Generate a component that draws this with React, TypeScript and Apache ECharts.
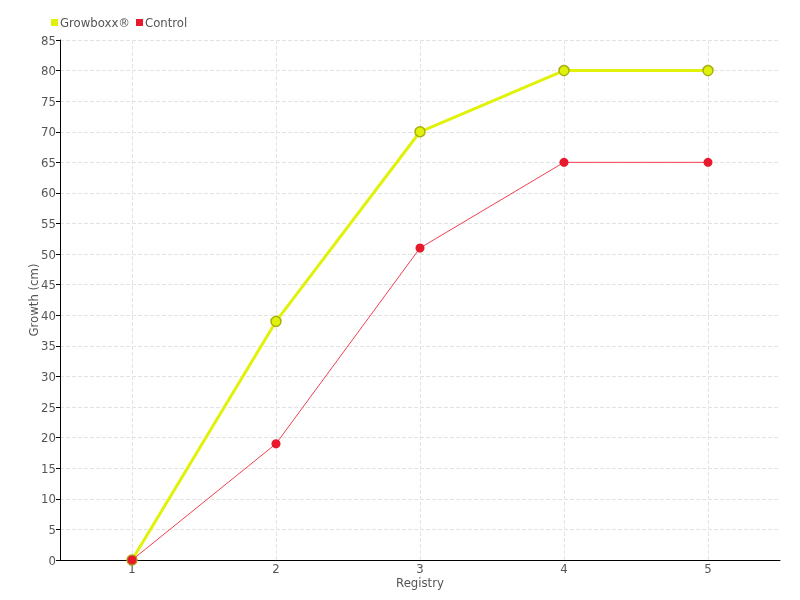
import React, { useEffect, useRef } from "react";
import * as echarts from "echarts";

const categories = ["1", "2", "3", "4", "5"];
const growboxx = [0, 39, 70, 80, 80];
const control = [0, 19, 51, 65, 65];
const seriesNames = ["Growboxx®", "Control"];

const FONT = "DejaVu Sans Condensed, DejaVu Sans, sans-serif";

export default function App() {
  const ref = useRef<HTMLDivElement>(null);
  useEffect(() => {
    if (!ref.current) return;
    const chart = echarts.init(ref.current, null, { renderer: "svg" });
    chart.setOption({
      animation: false,
      textStyle: { fontFamily: FONT },
      legend: {
        left: 46,
        top: 11,
        itemWidth: 7,
        itemHeight: 7,
        itemGap: 6,
        icon: "rect",
        itemStyle: { borderWidth: 0 },
        textStyle: { color: "#555", fontSize: 13, fontFamily: FONT, padding: [0, 0, 0, -3] },
        data: seriesNames,
      },
      grid: { left: 60, right: 20, top: 40, bottom: 40 },
      xAxis: {
        type: "category",
        data: categories,
        boundaryGap: true,
        name: "Registry",
        nameLocation: "middle",
        nameGap: 16,
        nameMoveOverlap: false,
        nameTextStyle: { color: "#555", fontSize: 13, fontFamily: FONT },
        axisLine: { lineStyle: { color: "#000" } },
        axisTick: { alignWithLabel: true, length: 4, lineStyle: { color: "#555" } },
        axisLabel: { color: "#555", fontSize: 13, margin: 2, fontFamily: FONT },
        splitLine: {
          show: true,
          alignWithLabel: true,
          lineStyle: { color: "#e3e3e3", type: "dashed" },
        },
      },
      yAxis: {
        type: "value",
        min: 0,
        max: 85,
        interval: 5,
        name: "Growth (cm)",
        nameLocation: "middle",
        nameGap: 20,
        nameMoveOverlap: false,
        nameTextStyle: { color: "#555", fontSize: 13, fontFamily: FONT },
        axisLine: { show: true, lineStyle: { color: "#000" } },
        axisTick: { show: true, length: 4, lineStyle: { color: "#000" } },
        axisLabel: { color: "#555", fontSize: 13, margin: 4, fontFamily: FONT },
        splitLine: { show: true, lineStyle: { color: "#e3e3e3", type: "dashed" } },
      },
      series: [
        {
          name: seriesNames[0],
          type: "line",
          data: growboxx,
          color: "#e1f20a",
          lineStyle: { width: 3, color: "#e1f20a" },
          symbol: "circle",
          symbolSize: 10,
          itemStyle: { color: "#e1f20a", borderColor: "#a8b010", borderWidth: 1.5 },
          z: 2,
        },
        {
          name: seriesNames[1],
          type: "line",
          data: control,
          color: "#e8192c",
          lineStyle: { width: 1, color: "#f04050" },
          symbol: "circle",
          symbolSize: 9,
          itemStyle: { color: "#e8192c", borderColor: "#e8192c", borderWidth: 0 },
          z: 3,
        },
      ],
    });
    return () => chart.dispose();
  }, []);
  return (
    <div
      ref={ref}
      style={{ position: "fixed", left: 0, top: 0, width: 800, height: 600 }}
    />
  );
}
